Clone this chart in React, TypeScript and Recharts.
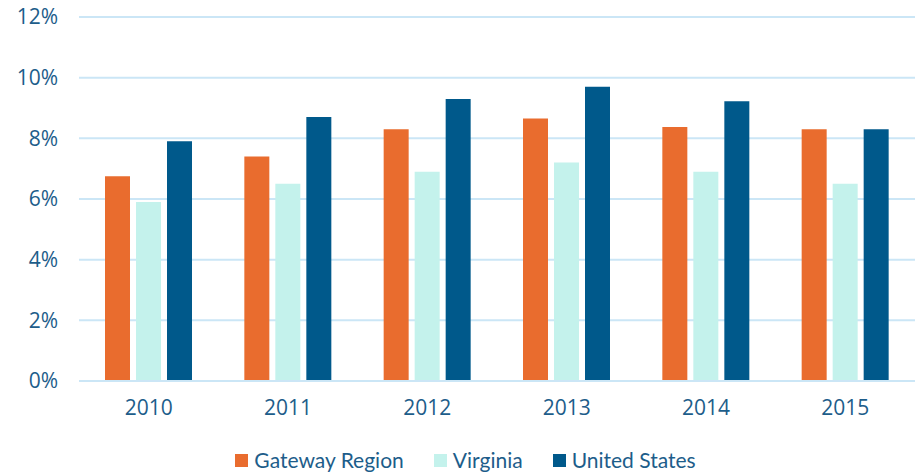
import { Bar, BarChart, CartesianGrid, Legend, XAxis, YAxis } from "recharts";

const years = ["2010", "2011", "2012", "2013", "2014", "2015"];
const gateway = [6.75, 7.4, 8.3, 8.65, 8.37, 8.3];
const virginia = [5.9, 6.5, 6.9, 7.2, 6.9, 6.5];
const unitedStates = [7.9, 8.7, 9.3, 9.7, 9.22, 8.3];
const yTicks = [0, 2, 4, 6, 8, 10, 12];

const series = [
  { key: "gateway", name: "Gateway Region", color: "#E96C2E" },
  { key: "virginia", name: "Virginia", color: "#C4F2EC" },
  { key: "us", name: "United States", color: "#00598B" },
];

const data = years.map((year, i) => ({
  year,
  gateway: gateway[i],
  virginia: virginia[i],
  us: unitedStates[i],
}));

const textColor = "#1D5D8A";

function LegendRow() {
  return (
    <div style={{ display: "flex", justifyContent: "center", paddingTop: 16, paddingLeft: 16 }}>
      {series.map((s, i) => (
        <div
          key={s.key}
          style={{ display: "flex", alignItems: "center", marginRight: i < series.length - 1 ? 30 : 0 }}
        >
          <span style={{ width: 13, height: 13, background: s.color, display: "inline-block", marginRight: 6 }} />
          <span style={{ fontFamily: "Lato", fontSize: 21, color: textColor, lineHeight: "26px" }}>{s.name}</span>
        </div>
      ))}
    </div>
  );
}

export default function App() {
  return (
    <div style={{ position: "absolute", left: 0, top: 0, background: "#fff" }}>
      <BarChart
        width={915}
        height={475}
        data={data}
        margin={{ top: 17, right: 0, left: 0, bottom: 0 }}
        barCategoryGap="18.7%"
        barGap={6}
      >
        <CartesianGrid vertical={false} stroke="#CBE6F6" strokeWidth={2} />
        <XAxis
          dataKey="year"
          height={50}
          axisLine={{ stroke: "#CBE6F6", strokeWidth: 2 }}
          tickLine={false}
          tickSize={0}
          tickMargin={19}
          tick={{ fill: textColor, fontSize: 21, fontFamily: "Open Sans" }}
        />
        <YAxis
          width={79}
          domain={[0, 12]}
          ticks={yTicks}
          tickFormatter={(v) => `${v}%`}
          axisLine={false}
          tickLine={false}
          tickSize={0}
          tickMargin={21}
          tick={{ fill: textColor, fontSize: 21, fontFamily: "Open Sans" }}
        />
        <Legend verticalAlign="bottom" wrapperStyle={{ height: 44 }} content={() => <LegendRow />} />
        {series.map((s) => (
          <Bar key={s.key} dataKey={s.key} name={s.name} fill={s.color} barSize={25} isAnimationActive={false} />
        ))}
      </BarChart>
    </div>
  );
}
